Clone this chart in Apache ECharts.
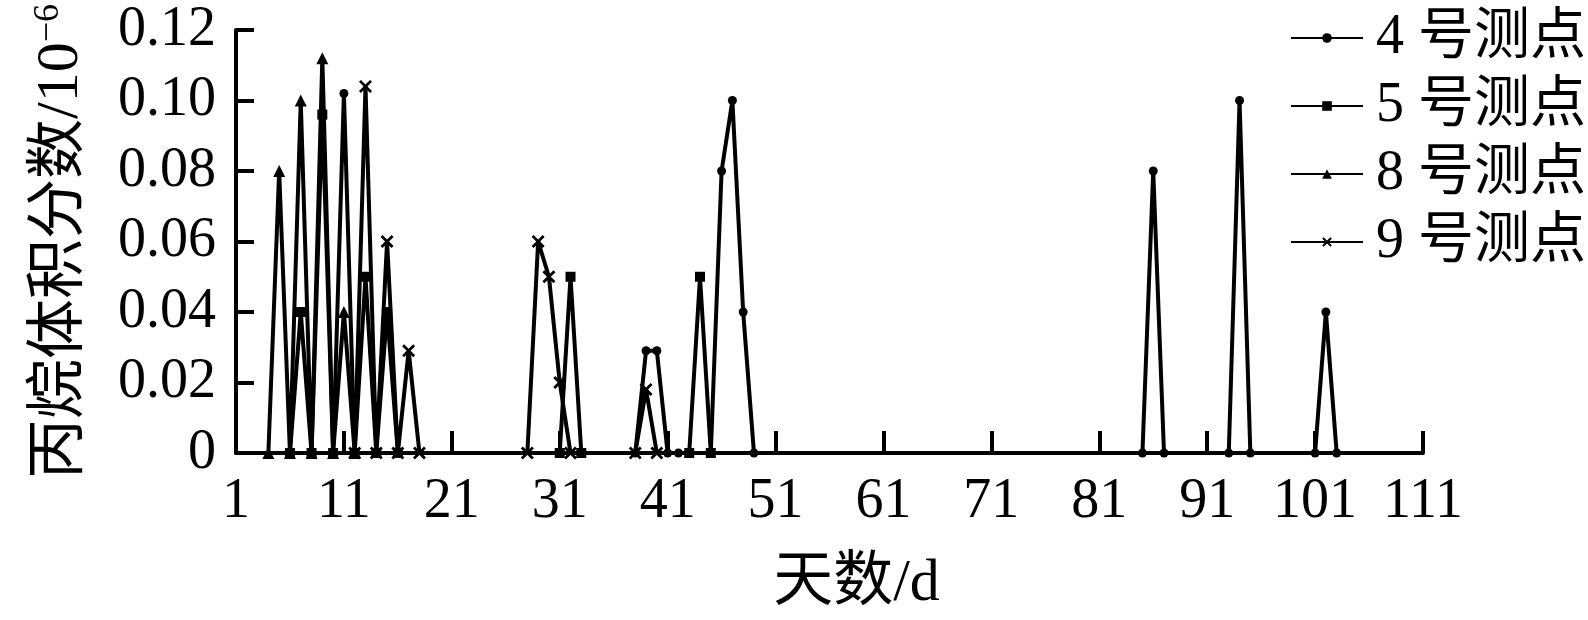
<!DOCTYPE html>
<html>
<head>
<meta charset="utf-8">
<script src="https://cdn.jsdelivr.net/npm/echarts@6/dist/echarts.min.js"></script>
<style>
html,body{margin:0;padding:0;background:#fff;}
#chart{width:1588px;height:620px;}
</style>
</head>
<body>
<div id="chart"></div>
<script>
// ---- data ----
const seriesNames = ['4 号测点', '5 号测点', '8 号测点', '9 号测点'];
const xTicks = [1, 11, 21, 31, 41, 51, 61, 71, 81, 91, 101, 111];
const yTicks = [0, 0.02, 0.04, 0.06, 0.08, 0.10, 0.12];

const days4 = [10, 11, 12, 38, 39, 40, 41, 42, 45, 46, 47, 48, 49, 85, 86, 87, 93, 94, 95, 101, 102, 103];
const vals4 = [0, 0.102, 0, 0, 0.029, 0.029, 0, 0, 0, 0.08, 0.10, 0.04, 0, 0, 0.08, 0, 0, 0.10, 0, 0, 0.04, 0];

const days5 = [6, 7, 8, 9, 10, 12, 13, 14, 15, 16, 31, 32, 33, 43, 44, 45];
const vals5 = [0, 0.04, 0, 0.096, 0, 0, 0.05, 0, 0.04, 0, 0, 0.05, 0, 0, 0.05, 0];

const days8 = [4, 5, 6, 7, 8, 9, 10, 11, 12];
const vals8 = [0, 0.08, 0, 0.10, 0, 0.112, 0, 0.04, 0];

const days9 = [12, 13, 14, 15, 16, 17, 18, 28, 29, 30, 31, 32, 38, 39, 40];
const vals9 = [0, 0.104, 0, 0.06, 0, 0.029, 0, 0, 0.06, 0.05, 0.02, 0, 0, 0.018, 0];

// ---- chart ----
const FONT = "'Times New Roman', 'Liberation Serif', 'Noto Sans CJK SC', serif";
const crossPath = 'path://M0,1.5 L1.5,0 L5,3.5 L8.5,0 L10,1.5 L6.5,5 L10,8.5 L8.5,10 L5,6.5 L1.5,10 L0,8.5 L3.5,5 Z';

function pairs(d, v) { return d.map((x, i) => [x, v[i]]); }

const defs = [
  { d: days4, v: vals4, symbol: 'circle', size: 9 },
  { d: days5, v: vals5, symbol: 'rect', size: 10 },
  { d: days8, v: vals8, symbol: 'triangle', size: 12 },
  { d: days9, v: vals9, symbol: crossPath, size: 13 }
];

const series = defs.map((s, i) => ({
  type: 'line',
  name: seriesNames[i],
  data: pairs(s.d, s.v),
  symbol: s.symbol,
  symbolSize: s.size,
  showSymbol: true,
  showAllSymbol: true,
  lineStyle: { color: '#000', width: 4 },
  itemStyle: { color: '#000' }
}));

const chart = echarts.init(document.getElementById('chart'), null, { renderer: 'canvas' });
chart.setOption({
  animation: false,
  backgroundColor: '#fff',
  grid: { left: 236, right: 165, top: 30, bottom: 167, containLabel: false, outerBoundsMode: 'none' },
  legend: {
    orient: 'vertical',
    left: 1285,
    top: 5,
    itemWidth: 72,
    itemHeight: 12,
    itemGap: 12,
    textStyle: { fontSize: 56, lineHeight: 56, color: '#000', fontFamily: FONT, padding: [0, 0, 0, 8] },
    data: seriesNames
  },
  xAxis: {
    type: 'value',
    min: 1,
    max: 111,
    name: '天数/d',
    nameLocation: 'middle',
    nameGap: 101,
    nameTextStyle: { fontSize: 60, color: '#000', fontFamily: FONT, padding: [0, 0, 0, 54] },
    axisLine: { lineStyle: { color: '#000', width: 4 } },
    axisTick: { inside: true, length: 22, lineStyle: { color: '#000', width: 4 }, customValues: xTicks },
    axisLabel: { customValues: xTicks, fontSize: 56, color: '#000', fontFamily: FONT, margin: 21 },
    splitLine: { show: false }
  },
  yAxis: {
    type: 'value',
    min: 0,
    max: 0.12,
    interval: 0.02,
    name: '丙烷体积分数/10{sup|−6}',
    nameLocation: 'middle',
    nameGap: 145,
    nameTextStyle: {
      fontSize: 60, color: '#000', fontFamily: FONT,
      rich: { sup: { fontSize: 36, color: '#000', fontFamily: FONT, verticalAlign: 'top', padding: [0, 0, 24, 0] } }
    },
    axisLine: { show: true, lineStyle: { color: '#000', width: 4 } },
    axisTick: { inside: true, length: 18, lineStyle: { color: '#000', width: 4 } },
    axisLabel: {
      fontSize: 56, color: '#000', fontFamily: FONT, margin: 20,
      formatter: v => { const i = yTicks.findIndex(t => Math.abs(t - v) < 1e-9); return i === 0 ? '0' : (i > 0 ? yTicks[i].toFixed(2) : ''); }
    },
    splitLine: { show: false }
  },
  series: series
});
</script>
</body>
</html>
